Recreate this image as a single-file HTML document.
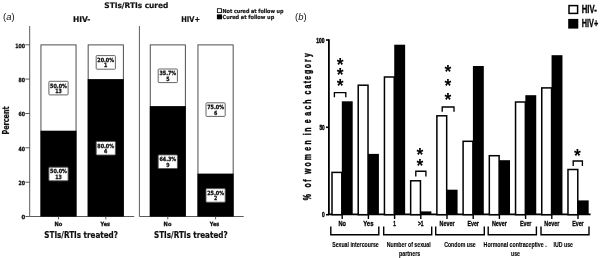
<!DOCTYPE html>
<html><head><meta charset="utf-8"><title>Figure</title>
<style>
html,body{margin:0;padding:0;background:#fff;}
svg{display:block;}
.a{font-family:"DejaVu Sans","Liberation Sans",sans-serif;font-weight:bold;fill:#111;stroke:#111;stroke-width:0.2px;}
.b{font-family:"Liberation Sans",sans-serif;font-weight:bold;fill:#000;stroke:#000;stroke-width:0.3px;}
.i{font-family:"Liberation Sans",sans-serif;fill:#111;}
</style></head><body>
<svg width="600" height="258" viewBox="0 0 600 258">
<rect width="600" height="258" fill="#fff"/>
<g id="panelA">
<text class="i" x="3" y="20.4" font-size="9.5">(<tspan font-style="italic">a</tspan>)</text>
<text class="a" x="104.3" y="7.8" font-size="7.7" text-anchor="start" textLength="64" lengthAdjust="spacingAndGlyphs">STIs/RTIs cured</text>
<text class="a" x="72.9" y="22.4" font-size="7.8" text-anchor="start" textLength="17.4" lengthAdjust="spacingAndGlyphs">HIV-</text>
<text class="a" x="181.3" y="22.4" font-size="7.8" text-anchor="start" textLength="18.8" lengthAdjust="spacingAndGlyphs">HIV+</text>
<rect x="217.4" y="8.7" width="4.1" height="3.9" fill="#fff" stroke="#111" stroke-width="0.9"/>
<rect x="216.9" y="14.4" width="5.1" height="4.9" fill="#000"/>
<text class="a" x="222.5" y="12.7" font-size="5.5" text-anchor="start" textLength="61" lengthAdjust="spacingAndGlyphs">Not cured at follow up</text>
<text class="a" x="222.5" y="18.8" font-size="5.5" text-anchor="start" textLength="51.7" lengthAdjust="spacingAndGlyphs">Cured at follow up</text>
<path d="M29.7 26V216.5H134.2M139.4 26V216.5H243.7" fill="none" stroke="#4a4a4a" stroke-width="0.9"/>
<path d="M25.4 216.5H29.7" stroke="#4a4a4a" stroke-width="0.9"/>
<text class="a" x="21.4" y="219.3" font-size="5.7" text-anchor="start" textLength="3.7" lengthAdjust="spacingAndGlyphs" style="stroke-width:0.3px">0</text>
<path d="M25.4 182.2H29.7" stroke="#4a4a4a" stroke-width="0.9"/>
<text class="a" x="18.6" y="185.0" font-size="5.7" text-anchor="start" textLength="6.5" lengthAdjust="spacingAndGlyphs" style="stroke-width:0.3px">20</text>
<path d="M25.4 147.8H29.7" stroke="#4a4a4a" stroke-width="0.9"/>
<text class="a" x="18.6" y="150.6" font-size="5.7" text-anchor="start" textLength="6.5" lengthAdjust="spacingAndGlyphs" style="stroke-width:0.3px">40</text>
<path d="M25.4 113.5H29.7" stroke="#4a4a4a" stroke-width="0.9"/>
<text class="a" x="18.6" y="116.3" font-size="5.7" text-anchor="start" textLength="6.5" lengthAdjust="spacingAndGlyphs" style="stroke-width:0.3px">60</text>
<path d="M25.4 79.1H29.7" stroke="#4a4a4a" stroke-width="0.9"/>
<text class="a" x="18.6" y="81.9" font-size="5.7" text-anchor="start" textLength="6.5" lengthAdjust="spacingAndGlyphs" style="stroke-width:0.3px">80</text>
<path d="M25.4 44.8H29.7" stroke="#4a4a4a" stroke-width="0.9"/>
<text class="a" x="15.3" y="47.6" font-size="5.7" text-anchor="start" textLength="9.8" lengthAdjust="spacingAndGlyphs" style="stroke-width:0.3px">100</text>
<text class="a" transform="translate(9 134.6) rotate(-90)" font-size="8.1" textLength="28.2" lengthAdjust="spacingAndGlyphs">Percent</text>
<rect x="40.95" y="44.90" width="35.10" height="171.6" fill="#fff" stroke="#3a3a3a" stroke-width="0.9"/>
<rect x="40.5" y="130.7" width="36.0" height="85.8" fill="#000"/>
<path d="M58.5 216.5V219.4" stroke="#4a4a4a" stroke-width="0.9"/>
<rect x="48.9" y="167.2" width="19.2" height="13.6" rx="0.8" fill="#fff" stroke="#555" stroke-width="0.9"/>
<text class="a" x="50.1" y="173.4" font-size="5.7" text-anchor="start" textLength="16.8" lengthAdjust="spacingAndGlyphs" style="stroke-width:0.3px">50.0%</text>
<text class="a" x="55.2" y="178.9" font-size="5.7" text-anchor="start" textLength="6.6" lengthAdjust="spacingAndGlyphs" style="stroke-width:0.3px">13</text>
<rect x="48.9" y="81.3" width="19.2" height="13.6" rx="0.8" fill="#fff" stroke="#555" stroke-width="0.9"/>
<text class="a" x="50.1" y="87.5" font-size="5.7" text-anchor="start" textLength="16.8" lengthAdjust="spacingAndGlyphs" style="stroke-width:0.3px">50.0%</text>
<text class="a" x="55.2" y="93.0" font-size="5.7" text-anchor="start" textLength="6.6" lengthAdjust="spacingAndGlyphs" style="stroke-width:0.3px">13</text>
<rect x="88.15" y="44.90" width="35.20" height="171.6" fill="#fff" stroke="#3a3a3a" stroke-width="0.9"/>
<rect x="87.7" y="79.1" width="36.1" height="137.4" fill="#000"/>
<path d="M105.8 216.5V219.4" stroke="#4a4a4a" stroke-width="0.9"/>
<rect x="96.2" y="141.4" width="19.2" height="13.6" rx="0.8" fill="#fff" stroke="#555" stroke-width="0.9"/>
<text class="a" x="97.3" y="147.6" font-size="5.7" text-anchor="start" textLength="16.8" lengthAdjust="spacingAndGlyphs" style="stroke-width:0.3px">80.0%</text>
<text class="a" x="104.1" y="153.1" font-size="5.7" text-anchor="start" textLength="3.3" lengthAdjust="spacingAndGlyphs" style="stroke-width:0.3px">4</text>
<rect x="96.2" y="55.6" width="19.2" height="13.6" rx="0.8" fill="#fff" stroke="#555" stroke-width="0.9"/>
<text class="a" x="97.3" y="61.8" font-size="5.7" text-anchor="start" textLength="16.8" lengthAdjust="spacingAndGlyphs" style="stroke-width:0.3px">20.0%</text>
<text class="a" x="104.1" y="67.3" font-size="5.7" text-anchor="start" textLength="3.3" lengthAdjust="spacingAndGlyphs" style="stroke-width:0.3px">1</text>
<rect x="150.25" y="44.90" width="35.10" height="171.6" fill="#fff" stroke="#3a3a3a" stroke-width="0.9"/>
<rect x="149.8" y="106.1" width="36.0" height="110.4" fill="#000"/>
<path d="M167.8 216.5V219.4" stroke="#4a4a4a" stroke-width="0.9"/>
<rect x="158.2" y="154.9" width="19.2" height="13.6" rx="0.8" fill="#fff" stroke="#555" stroke-width="0.9"/>
<text class="a" x="159.4" y="161.1" font-size="5.7" text-anchor="start" textLength="16.8" lengthAdjust="spacingAndGlyphs" style="stroke-width:0.3px">64.3%</text>
<text class="a" x="166.2" y="166.6" font-size="5.7" text-anchor="start" textLength="3.3" lengthAdjust="spacingAndGlyphs" style="stroke-width:0.3px">9</text>
<rect x="158.2" y="69.0" width="19.2" height="13.6" rx="0.8" fill="#fff" stroke="#555" stroke-width="0.9"/>
<text class="a" x="159.4" y="75.2" font-size="5.7" text-anchor="start" textLength="16.8" lengthAdjust="spacingAndGlyphs" style="stroke-width:0.3px">35.7%</text>
<text class="a" x="166.2" y="80.7" font-size="5.7" text-anchor="start" textLength="3.3" lengthAdjust="spacingAndGlyphs" style="stroke-width:0.3px">5</text>
<rect x="197.95" y="44.90" width="35.20" height="171.6" fill="#fff" stroke="#3a3a3a" stroke-width="0.9"/>
<rect x="197.5" y="173.6" width="36.1" height="42.9" fill="#000"/>
<path d="M215.6 216.5V219.4" stroke="#4a4a4a" stroke-width="0.9"/>
<rect x="206.0" y="188.6" width="19.2" height="13.6" rx="0.8" fill="#fff" stroke="#555" stroke-width="0.9"/>
<text class="a" x="207.2" y="194.8" font-size="5.7" text-anchor="start" textLength="16.8" lengthAdjust="spacingAndGlyphs" style="stroke-width:0.3px">25.0%</text>
<text class="a" x="213.9" y="200.3" font-size="5.7" text-anchor="start" textLength="3.3" lengthAdjust="spacingAndGlyphs" style="stroke-width:0.3px">2</text>
<rect x="206.0" y="102.8" width="19.2" height="13.6" rx="0.8" fill="#fff" stroke="#555" stroke-width="0.9"/>
<text class="a" x="207.2" y="109.0" font-size="5.7" text-anchor="start" textLength="16.8" lengthAdjust="spacingAndGlyphs" style="stroke-width:0.3px">75.0%</text>
<text class="a" x="213.9" y="114.5" font-size="5.7" text-anchor="start" textLength="3.3" lengthAdjust="spacingAndGlyphs" style="stroke-width:0.3px">6</text>
<text class="a" x="54.5" y="225.8" font-size="5.7" text-anchor="start" textLength="7.8" lengthAdjust="spacingAndGlyphs" style="stroke-width:0.3px">No</text>
<text class="a" x="100.5" y="225.8" font-size="5.7" text-anchor="start" textLength="9.5" lengthAdjust="spacingAndGlyphs" style="stroke-width:0.3px">Yes</text>
<text class="a" x="163.6" y="225.8" font-size="5.7" text-anchor="start" textLength="7.8" lengthAdjust="spacingAndGlyphs" style="stroke-width:0.3px">No</text>
<text class="a" x="209.8" y="225.8" font-size="5.7" text-anchor="start" textLength="9.5" lengthAdjust="spacingAndGlyphs" style="stroke-width:0.3px">Yes</text>
<text class="a" x="44.3" y="237.6" font-size="8.1" text-anchor="start" textLength="73.6" lengthAdjust="spacingAndGlyphs">STIs/RTIs treated?</text>
<text class="a" x="154.0" y="237.6" font-size="8.1" text-anchor="start" textLength="73.6" lengthAdjust="spacingAndGlyphs">STIs/RTIs treated?</text>
</g>
<g id="panelB">
<text class="i" x="295" y="20.4" font-size="9.5">(<tspan font-style="italic">b</tspan>)</text>
<rect x="569" y="5.6" width="8.6" height="7.8" fill="#fff" stroke="#000" stroke-width="1.5"/>
<rect x="568.2" y="18.9" width="10.1" height="9.7" fill="#000"/>
<text class="b" x="581.8" y="13.1" font-size="10.3" text-anchor="start" textLength="15" lengthAdjust="spacingAndGlyphs">HIV-</text>
<text class="b" x="581.8" y="26.6" font-size="10.3" text-anchor="start" textLength="16.4" lengthAdjust="spacingAndGlyphs">HIV+</text>
<path d="M328.9 39.2V214.29999999999998H590.6" fill="none" stroke="#000" stroke-width="1.8"/>
<path d="M326 214.7H328.9" stroke="#000" stroke-width="1.6"/>
<text class="b" x="321.9" y="217.4" font-size="7.6" text-anchor="start" textLength="2.7" lengthAdjust="spacingAndGlyphs" style="stroke-width:0.45px">0</text>
<path d="M326 127.3H328.9" stroke="#000" stroke-width="1.6"/>
<text class="b" x="319.4" y="130.0" font-size="7.6" text-anchor="start" textLength="5.2" lengthAdjust="spacingAndGlyphs" style="stroke-width:0.45px">50</text>
<path d="M326 40.0H328.9" stroke="#000" stroke-width="1.6"/>
<text class="b" x="316.3" y="42.7" font-size="7.6" text-anchor="start" textLength="8.3" lengthAdjust="spacingAndGlyphs" style="stroke-width:0.45px">100</text>
<text class="b" transform="translate(311.2 201) rotate(-90) scale(0.68 1)" font-size="10.2" style="stroke-width:0.4px" x="1.2 5.2 19.8 28.5 32.5 39.9 50.9 60.0 73.9 83.2 87.2 96.8 101.7 105.7 114.4 125.5 134.4 143.1 147.1 156.6 165.4 173.1 178.2 186.9 195.3 204.5 211.8">% of women in each category</text>
<rect x="332.00" y="172.4" width="9.80" height="42.3" fill="#fff" stroke="#000" stroke-width="1.5"/>
<rect x="341.80" y="101.3" width="10.90" height="113.4" fill="#000"/>
<path d="M342.2 214.7V219" stroke="#000" stroke-width="1.4"/>
<text class="b" x="338.4" y="225.5" font-size="7.4" text-anchor="start" textLength="7.5" lengthAdjust="spacingAndGlyphs">No</text>
<rect x="358.22" y="85.2" width="9.80" height="129.5" fill="#fff" stroke="#000" stroke-width="1.5"/>
<rect x="368.02" y="153.9" width="10.90" height="60.8" fill="#000"/>
<path d="M368.4 214.7V219" stroke="#000" stroke-width="1.4"/>
<text class="b" x="363.2" y="225.5" font-size="7.4" text-anchor="start" textLength="10.3" lengthAdjust="spacingAndGlyphs">Yes</text>
<rect x="384.44" y="77.0" width="9.80" height="137.7" fill="#fff" stroke="#000" stroke-width="1.5"/>
<rect x="394.24" y="44.7" width="10.90" height="170.0" fill="#000"/>
<path d="M394.6 214.7V219" stroke="#000" stroke-width="1.4"/>
<text class="b" x="393.3" y="225.5" font-size="7.4" text-anchor="start" textLength="2.6" lengthAdjust="spacingAndGlyphs">1</text>
<rect x="410.66" y="180.8" width="9.80" height="33.9" fill="#fff" stroke="#000" stroke-width="1.5"/>
<rect x="420.46" y="211.4" width="10.90" height="3.3" fill="#000"/>
<path d="M420.8 214.7V219" stroke="#000" stroke-width="1.4"/>
<text class="b" x="418.0" y="225.5" font-size="7.4" text-anchor="start" textLength="5.6" lengthAdjust="spacingAndGlyphs">&gt;1</text>
<rect x="436.88" y="115.8" width="9.80" height="98.9" fill="#fff" stroke="#000" stroke-width="1.5"/>
<rect x="446.68" y="189.7" width="10.90" height="25.0" fill="#000"/>
<path d="M447.0 214.7V219" stroke="#000" stroke-width="1.4"/>
<text class="b" x="439.5" y="225.5" font-size="7.4" text-anchor="start" textLength="15" lengthAdjust="spacingAndGlyphs">Never</text>
<rect x="463.10" y="141.3" width="9.80" height="73.4" fill="#fff" stroke="#000" stroke-width="1.5"/>
<rect x="472.90" y="66.0" width="10.90" height="148.7" fill="#000"/>
<path d="M473.2 214.7V219" stroke="#000" stroke-width="1.4"/>
<text class="b" x="467.4" y="225.5" font-size="7.4" text-anchor="start" textLength="11.5" lengthAdjust="spacingAndGlyphs">Ever</text>
<rect x="489.32" y="155.7" width="9.80" height="59.0" fill="#fff" stroke="#000" stroke-width="1.5"/>
<rect x="499.12" y="160.2" width="10.90" height="54.5" fill="#000"/>
<path d="M499.4 214.7V219" stroke="#000" stroke-width="1.4"/>
<text class="b" x="491.9" y="225.5" font-size="7.4" text-anchor="start" textLength="15" lengthAdjust="spacingAndGlyphs">Never</text>
<rect x="515.54" y="102.0" width="9.80" height="112.7" fill="#fff" stroke="#000" stroke-width="1.5"/>
<rect x="525.34" y="95.2" width="10.90" height="119.5" fill="#000"/>
<path d="M525.6 214.7V219" stroke="#000" stroke-width="1.4"/>
<text class="b" x="519.9" y="225.5" font-size="7.4" text-anchor="start" textLength="11.5" lengthAdjust="spacingAndGlyphs">Ever</text>
<rect x="541.76" y="87.9" width="9.80" height="126.8" fill="#fff" stroke="#000" stroke-width="1.5"/>
<rect x="551.56" y="55.2" width="10.90" height="159.5" fill="#000"/>
<path d="M551.8 214.7V219" stroke="#000" stroke-width="1.4"/>
<text class="b" x="544.3" y="225.5" font-size="7.4" text-anchor="start" textLength="15" lengthAdjust="spacingAndGlyphs">Never</text>
<rect x="567.98" y="169.5" width="9.80" height="45.2" fill="#fff" stroke="#000" stroke-width="1.5"/>
<rect x="577.78" y="200.4" width="10.90" height="14.3" fill="#000"/>
<path d="M578.0 214.7V219" stroke="#000" stroke-width="1.4"/>
<text class="b" x="572.2" y="225.5" font-size="7.4" text-anchor="start" textLength="11.5" lengthAdjust="spacingAndGlyphs">Ever</text>
<path d="M330.8 226.6V234.7H378.8V226.6" fill="none" stroke="#000" stroke-width="1.4"/>
<text class="b" x="332.2" y="246.9" font-size="6.8" text-anchor="start" textLength="46.5" lengthAdjust="spacingAndGlyphs" style="stroke-width:0.12px">Sexual intercourse</text>
<path d="M383.7 226.6V234.7H431.7V226.6" fill="none" stroke="#000" stroke-width="1.4"/>
<text class="b" x="386.7" y="246.9" font-size="6.8" text-anchor="start" textLength="44" lengthAdjust="spacingAndGlyphs" style="stroke-width:0.12px">Number of sexual</text>
<text class="b" x="399" y="255.6" font-size="6.8" text-anchor="start" textLength="21.2" lengthAdjust="spacingAndGlyphs" style="stroke-width:0.12px">partners</text>
<path d="M435.7 226.6V234.7H484.3V226.6" fill="none" stroke="#000" stroke-width="1.4"/>
<text class="b" x="444.2" y="246.9" font-size="6.8" text-anchor="start" textLength="31.5" lengthAdjust="spacingAndGlyphs" style="stroke-width:0.12px">Condom use</text>
<path d="M488.2 226.6V234.7H536.4V226.6" fill="none" stroke="#000" stroke-width="1.4"/>
<text class="b" x="483.6" y="246.9" font-size="6.8" text-anchor="start" textLength="63" lengthAdjust="spacingAndGlyphs" style="stroke-width:0.12px">Hormonal contraceptive .</text>
<text class="b" x="511" y="255.6" font-size="6.8" text-anchor="start" textLength="9" lengthAdjust="spacingAndGlyphs" style="stroke-width:0.12px">use</text>
<path d="M541.0 226.6V234.7H589.0V226.6" fill="none" stroke="#000" stroke-width="1.4"/>
<text class="b" x="553.6" y="246.9" font-size="6.8" text-anchor="start" textLength="19.4" lengthAdjust="spacingAndGlyphs" style="stroke-width:0.12px">IUD use</text>
<text class="b" x="340.1" y="70.5" font-size="17.5" style="stroke:none" text-anchor="middle">*</text>
<text class="b" x="340.1" y="81.4" font-size="17.5" style="stroke:none" text-anchor="middle">*</text>
<text class="b" x="340.1" y="92.0" font-size="17.5" style="stroke:none" text-anchor="middle">*</text>
<path d="M334.4 97.2V92.6H345.8V97.2" fill="none" stroke="#000" stroke-width="1.35"/>
<text class="b" x="447.8" y="78.0" font-size="17.5" style="stroke:none" text-anchor="middle">*</text>
<text class="b" x="447.8" y="92.2" font-size="17.5" style="stroke:none" text-anchor="middle">*</text>
<text class="b" x="447.8" y="105.5" font-size="17.5" style="stroke:none" text-anchor="middle">*</text>
<path d="M442.2 111.8V107H454V111.8" fill="none" stroke="#000" stroke-width="1.35"/>
<text class="b" x="420" y="160.9" font-size="17.5" style="stroke:none" text-anchor="middle">*</text>
<text class="b" x="420" y="172.2" font-size="17.5" style="stroke:none" text-anchor="middle">*</text>
<path d="M415.8 176.4V171.2H425.9V176.4" fill="none" stroke="#000" stroke-width="1.35"/>
<text class="b" x="577.4" y="162.3" font-size="17.5" style="stroke:none" text-anchor="middle">*</text>
<path d="M573.2 166V161H582.4V166" fill="none" stroke="#000" stroke-width="1.35"/>
</g>
</svg>
</body></html>
